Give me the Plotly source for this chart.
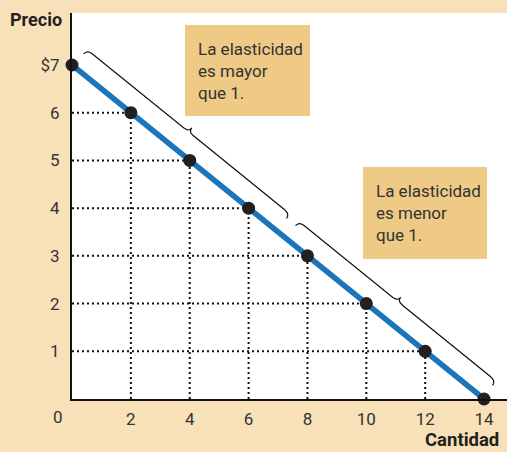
import numpy as np
import plotly.graph_objects as go

# datos de la curva de demanda
cantidad = [0, 2, 4, 6, 8, 10, 12, 14]
precio = [7, 6, 5, 4, 3, 2, 1, 0]

y_ticks = [1, 2, 3, 4, 5, 6, 7]
y_labels = ["1", "2", "3", "4", "5", "6", "$7"]
x_ticks = [2, 4, 6, 8, 10, 12, 14]
x_labels = ["2", "4", "6", "8", "10", "12", "14"]

# tramo de cantidad que cubre cada llave
tramos = [(0.05, 6.95), (7.25, 13.95)]
textos = ["La elasticidad<br>es mayor<br>que 1.", "La elasticidad<br>es menor<br>que 1."]

W, H = 507, 452
ML, MR, MT, MB = 72, 0, 13, 53
XMAX, YMAX = 14.78, 8.09
sx = (W - ML - MR) / XMAX
sy = (H - MT - MB) / YMAX

BG = "#f8e1b9"
CAJA = "#efca86"
TXT = "#333333"
FONT = "Roboto"


def px(x):
    return (x - ML) / (W - ML - MR)


def py(y):
    return (H - MB - y) / (H - MT - MB)


def qbez(a, b, c, n=12):
    t = np.linspace(0, 1, n)[:, None]
    a, b, c = map(np.array, (a, b, c))
    return (1 - t) ** 2 * a + 2 * (1 - t) * t * b + t ** 2 * c


def llave(q0, q1, d0=16, d1=21.5, d2=26.5, h=7, c=6):
    p0 = np.array([q0 * sx, np.interp(q0, cantidad, precio) * sy])
    p1 = np.array([q1 * sx, np.interp(q1, cantidad, precio) * sy])
    L = np.linalg.norm(p1 - p0)
    u = (p1 - p0) / L
    nrm = np.array([-u[1], u[0]])
    m = L / 2
    pts = np.vstack([
        qbez((0, d0), (0.5, d1), (h, d1)),
        qbez((m - c, d1), (m, d1), (m, d2)),
        qbez((m, d2), (m, d1), (m + c, d1)),
        qbez((L - h, d1), (L - 0.5, d1), (L, d0)),
    ])
    xy = p0 + pts[:, :1] * u + pts[:, 1:] * nrm
    return xy[:, 0] / sx, xy[:, 1] / sy


fig = go.Figure()

# lineas punteadas
gx, gy = [], []
for q, p in zip(cantidad[1:-1], precio[1:-1]):
    gx += [0, q, None, q, q, None]
    gy += [p, p, None, 0, p, None]
fig.add_trace(go.Scatter(x=gx, y=gy, mode="lines",
                         line=dict(color="#111111", width=2, dash="2px,3px"),
                         hoverinfo="skip"))

# llaves
for q0, q1 in tramos:
    bx, by = llave(q0, q1)
    fig.add_trace(go.Scatter(x=bx, y=by, mode="lines",
                             line=dict(color="#111111", width=1.2),
                             hoverinfo="skip"))

fig.add_trace(go.Scatter(x=cantidad, y=precio, mode="lines",
                         line=dict(color="#1b75bb", width=5.5), cliponaxis=False))
fig.add_trace(go.Scatter(x=cantidad, y=precio, mode="markers",
                         marker=dict(color="#231f20", size=13), cliponaxis=False))

# cajas de texto (en pixeles)
cajas = [(185, 310, 25, 116), (363, 487, 167, 259)]
for (x0, x1, y0, y1), t in zip(cajas, textos):
    fig.add_shape(type="rect", x0=px(x0), x1=px(x1), y0=py(y1), y1=py(y0),
                  xref="paper", yref="paper",
                  fillcolor=CAJA, line=dict(width=0), layer="below")
    fig.add_annotation(x=px(x0 + 11), y=py((y0 + y1) / 2), xref="paper", yref="paper",
                       text=t, showarrow=False, xanchor="left", yanchor="middle",
                       align="left", font=dict(family=FONT, size=17, color=TXT))

fig.add_annotation(x=px(58), y=py(417), xref="paper", yref="paper", text="0",
                   showarrow=False, xanchor="center", yanchor="middle",
                   font=dict(family=FONT, size=17, color=TXT))
fig.add_annotation(x=px(36), y=py(20), xref="paper", yref="paper", text="<b>Precio</b>",
                   showarrow=False, xanchor="center", yanchor="middle",
                   font=dict(family=FONT, size=18, color="#231f20"))
fig.add_annotation(x=px(501), y=py(440), xref="paper", yref="paper",
                   text="<b>Cantidad</b>", showarrow=False, xanchor="right",
                   yanchor="middle", font=dict(family=FONT, size=18.5, color="#231f20"))

fig.update_layout(
    width=W, height=H, margin=dict(l=ML, r=MR, t=MT, b=MB),
    paper_bgcolor=BG, plot_bgcolor="white", showlegend=False,
    xaxis=dict(range=[0, XMAX], tickvals=x_ticks, ticktext=x_labels, showgrid=False,
               zeroline=False, showline=True, linecolor="#111111", linewidth=2,
               ticks="", ticklabelstandoff=4,
               tickfont=dict(family=FONT, size=17, color=TXT)),
    yaxis=dict(range=[0, YMAX], tickvals=y_ticks, ticktext=y_labels, showgrid=False,
               zeroline=False, showline=True, linecolor="#111111", linewidth=2,
               ticks="", ticklabelstandoff=7,
               tickfont=dict(family=FONT, size=17, color=TXT)),
)

fig.write_html("out.html", config={"displayModeBar": False},
               post_script="document.body.style.margin='0';")
